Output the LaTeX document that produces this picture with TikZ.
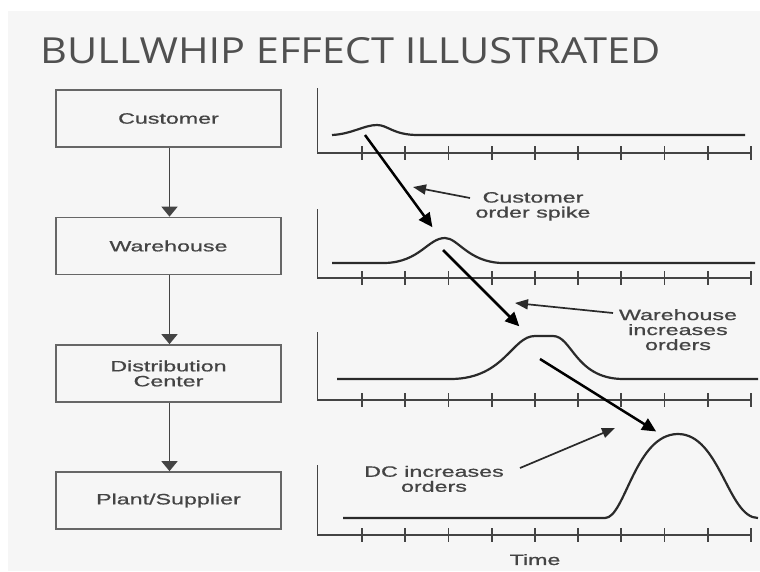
\documentclass[tikz,border=0pt]{standalone}
\usepackage{fontspec}
\usepackage{graphicx}
\setmainfont{Liberation Sans}
\newfontfamily\labelfont{Liberation Sans}[FakeBold=0.7]
\newfontfamily\titlefont{Open Sans}
\usetikzlibrary{arrows.meta}

\definecolor{pagegrey}{HTML}{F6F6F6}
\definecolor{titlegrey}{HTML}{505050}
\definecolor{boxline}{HTML}{666666}
\definecolor{inkdark}{HTML}{2A2A2A}
\definecolor{txtgrey}{HTML}{444444}

% wide sans lettering
\newcommand{\wx}[1]{\scalebox{1.55}[1]{#1}}

\tikzset{
  stagebox/.style={draw=boxline, line width=1.7pt, fill=pagegrey,
    minimum width=225pt, minimum height=57pt, inner sep=0pt,
    align=center, text=txtgrey, font=\labelfont\fontsize{15}{15}\selectfont},
  flowarrow/.style={draw=txtgrey, line width=1.6pt,
    -{Triangle[length=10pt,width=16pt]}},
  axisline/.style={draw=txtgrey, line width=1.7pt},
  tickmark/.style={draw=txtgrey, line width=1.8pt},
  demand/.style={draw=inkdark, line width=2.2pt, line join=round},
  passarrow/.style={draw=black, line width=2.5pt,
    -{Triangle[length=14pt,width=13pt]}, shorten >=1pt},
  notearrow/.style={draw=inkdark, line width=1.7pt,
    -{Triangle[length=13pt,width=10pt]}},
  note/.style={align=center, text=txtgrey, inner sep=0pt,
    font=\labelfont\fontsize{15}{15}\selectfont},
}

\begin{document}
\begin{tikzpicture}[x=1pt, y=-1pt]
  % page
  \useasboundingbox (0,0) rectangle (760,571);
  \fill[white] (0,0) rectangle (760,571);
  \fill[pagegrey] (8,11) rectangle (760,571);

  % heading
  \node[anchor=base west, inner sep=0pt, text=titlegrey] (title) at (40,63)
    {\resizebox{620pt}{26pt}{\titlefont BULLWHIP EFFECT ILLUSTRATED}};

  % supply chain stages
  \node[stagebox] (cust) at (168.5,118.5) {\wx{Customer}};
  \node[stagebox] (ware) at (168.5,246)   {\wx{Warehouse}};
  \node[stagebox] (dist) at (168.5,373.5) {\wx{Distribution}\\\wx{Center}};
  \node[stagebox] (plant) at (168.5,500.5) {\wx{Plant/Supplier}};

  \draw[flowarrow] (cust.south -| 169.5,0) -- (ware.north -| 169.5,0);
  \draw[flowarrow] (ware.south -| 169.5,0) -- (dist.north -| 169.5,0);
  \draw[flowarrow] (dist.south -| 169.5,0) -- (plant.north -| 169.5,0);

  % order charts: axes and ticks
  \foreach \top/\base in {88/153, 209/278, 332/400, 465/535} {
    \draw[axisline] (317.5,\top) -- (317.5,\base) -- (751,\base);
    \foreach \k in {0,...,9}
      \draw[tickmark] ({362+43.2*\k},\base-7) -- ++(0,14);
  }

  % order curves
  \draw[demand] (332,135) .. controls (352,134) and (364,125) .. (377,125)
    .. controls (388,125) and (393,135) .. (418,135) -- (745,135);
  \draw[demand] (332,263) -- (385,263)
    .. controls (420,262) and (428,238) .. (445,238)
    .. controls (458,238) and (468,262) .. (502,263) -- (755,263);
  \draw[demand] (337,379) -- (452,379)
    .. controls (505,378) and (512,336) .. (535,336) -- (553,336)
    .. controls (572,336) and (575,378) .. (622,379) -- (758,379);
  \draw[demand] (343,518) -- (605,518)
    .. controls (625,518) and (635,434) .. (678,434)
    .. controls (720,434) and (728,518) .. (758,518);

  % points where each spike is handed on
  \coordinate (p1from) at (365,135);
  \coordinate (p1to)   at (433,228);
  \coordinate (p2from) at (443,250);
  \coordinate (p2to)   at (520,327);
  \coordinate (p3from) at (540,359);
  \coordinate (p3to)   at (657,432);

  \draw[passarrow] (p1from) -- (p1to);
  \draw[passarrow] (p2from) -- (p2to);
  \draw[passarrow] (p3from) -- (p3to);

  % annotations
  \node[note] (n1) at (533,206.4) {\wx{Customer}\\\wx{order spike}};
  \node[note] (n2) at (678,329.7) {\wx{Warehouse}\\\wx{increases}\\\wx{orders}};
  \node[note] (n3) at (434,478.9) {\wx{DC increases}\\\wx{orders}};
  \node[note] (tlabel) at (535,559.6) {\wx{Time}};

  \coordinate (n1tail) at (470,198);
  \coordinate (n1tip)  at (413,187);
  \coordinate (n2tail) at (613,313);
  \coordinate (n2tip)  at (515,303);
  \coordinate (n3tail) at (520,468);
  \coordinate (n3tip)  at (615,428);
  \draw[notearrow] (n1tail) -- (n1tip);
  \draw[notearrow] (n2tail) -- (n2tip);
  \draw[notearrow] (n3tail) -- (n3tip);
\end{tikzpicture}
\end{document}
